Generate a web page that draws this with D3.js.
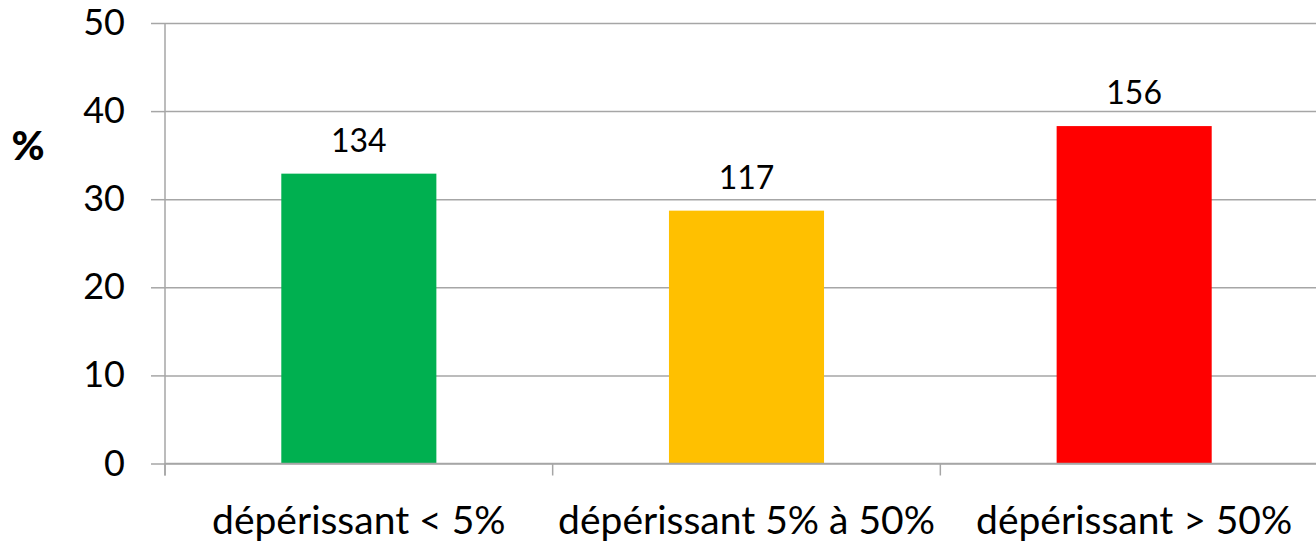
<!DOCTYPE html>
<html>
<head>
<meta charset="utf-8">
<script src="https://cdn.jsdelivr.net/npm/d3@7"></script>
<style>
  html, body { margin: 0; padding: 0; background: #fff; }
  svg { display: block; }
  svg text { font-family: Lato, "Open Sans", sans-serif; }
</style>
</head>
<body>
<svg id="chart" width="1316" height="543"></svg>
<script>
// Share of trees per decline class (%), with the tree count printed above each bar
const categories = ["dépérissant < 5%", "dépérissant 5% à 50%", "dépérissant > 50%"];
const percentages = [32.9, 28.7, 38.3];
const counts = [134, 117, 156];
const barColors = ["#00B050", "#FFC000", "#FF0000"];
const yTicks = [0, 10, 20, 30, 40, 50];

const svg = d3.select("#chart");
const margin = { left: 165, top: 23, bottom: 463.5 };
const plotRight = 1328;

const x = d3.scaleBand()
  .domain(categories)
  .range([margin.left, plotRight])
  .paddingInner(0)
  .paddingOuter(0);

const y = d3.scaleLinear().domain([0, 50]).range([margin.bottom, margin.top]);

const gridColor = "#a6a6a6";
const fontFamily = "Lato, 'Open Sans', sans-serif";

// horizontal gridlines with short outward ticks
const yAxis = svg.append("g")
  .attr("transform", `translate(${margin.left},0)`)
  .call(d3.axisLeft(y).tickValues(yTicks).tickSize(14).tickPadding(26).tickFormat(d3.format("d")))
  .attr("font-family", fontFamily);
yAxis.select(".domain").remove();
yAxis.selectAll(".tick line").attr("stroke", gridColor).attr("stroke-width", 1.5);
yAxis.selectAll(".tick").append("line")
  .attr("x1", 0).attr("x2", plotRight - margin.left)
  .attr("stroke", gridColor).attr("stroke-width", 1.5);
yAxis.selectAll(".tick text")
  .attr("fill", "#000").style("font-size", "36px");

// vertical axis line
svg.append("line")
  .attr("x1", margin.left).attr("x2", margin.left)
  .attr("y1", y(50)).attr("y2", y(0) + 12)
  .attr("stroke", gridColor).attr("stroke-width", 1.5);

// category boundary ticks below the baseline
const boundaries = categories.map(c => x(c)).concat([plotRight]);
svg.selectAll("line.boundary").data(boundaries).join("line")
  .attr("class", "boundary")
  .attr("x1", d => d).attr("x2", d => d)
  .attr("y1", y(0)).attr("y2", y(0) + 12)
  .attr("stroke", gridColor).attr("stroke-width", 1.5);

// bars
const barW = x.bandwidth() * 0.4;
svg.selectAll("rect.bar").data(categories).join("rect")
  .attr("class", "bar")
  .attr("x", (d) => x(d) + (x.bandwidth() - barW) / 2)
  .attr("width", barW)
  .attr("y", (d, i) => y(percentages[i]))
  .attr("height", (d, i) => y(0) - y(percentages[i]))
  .attr("fill", (d, i) => barColors[i]);

// redraw baseline over bars
svg.append("line")
  .attr("x1", margin.left).attr("x2", plotRight)
  .attr("y1", y(0)).attr("y2", y(0))
  .attr("stroke", gridColor).attr("stroke-width", 1.5);

// count labels
svg.selectAll("text.count").data(categories).join("text")
  .attr("class", "count")
  .attr("x", d => x(d) + x.bandwidth() / 2)
  .attr("y", (d, i) => y(percentages[i]) - 22)
  .attr("text-anchor", "middle")
  .style("font-size", "32px")
  .attr("fill", "#000")
  .text((d, i) => counts[i]);

// category labels
svg.selectAll("text.cat").data(categories).join("text")
  .attr("class", "cat")
  .attr("x", d => x(d) + x.bandwidth() / 2)
  .attr("y", 534)
  .attr("text-anchor", "middle")
  .style("font-size", "39px")
  .attr("fill", "#000")
  .text(d => d);

// y-axis unit
svg.append("text")
  .attr("x", 28).attr("y", 160)
  .attr("text-anchor", "middle")
  .style("font-size", "40px").style("font-weight", "900")
  .attr("fill", "#000")
  .text("%");
</script>
</body>
</html>
